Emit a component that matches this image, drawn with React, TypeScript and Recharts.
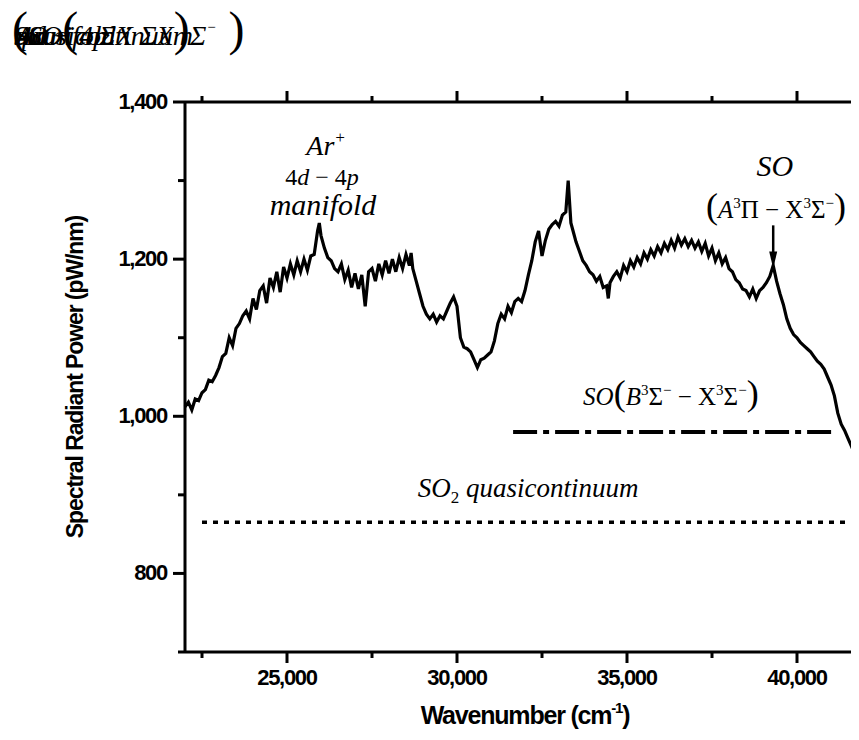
import { LineChart, Line, XAxis, YAxis, ReferenceLine, ReferenceDot } from 'recharts'

// emission spectrum (cm-1 vs pW/nm)
const wavenumber = [
  22000, 22100, 22200, 22300, 22400, 22500, 22600, 22700, 22800, 22900,
  23000, 23100, 23200, 23300, 23400, 23500, 23600, 23700, 23800, 23900,
  24000, 24100, 24200, 24300, 24400, 24500, 24600, 24700, 24800, 24900,
  25000, 25100, 25200, 25300, 25400, 25500, 25600, 25700, 25800, 25900, 25950,
  26000, 26100, 26200, 26300, 26400, 26500, 26600, 26700, 26800, 26900,
  27000, 27100, 27200, 27300, 27400, 27500, 27600, 27700, 27800, 27900,
  28000, 28100, 28200, 28300, 28400, 28500, 28600, 28650, 28700, 28800, 28900,
  29000, 29100, 29200, 29300, 29400, 29500, 29600, 29700, 29800, 29900,
  30000, 30100, 30200, 30300, 30400, 30500, 30600, 30700, 30800, 30900,
  31000, 31100, 31200, 31300, 31400, 31500, 31600, 31700, 31800, 31900,
  32000, 32100, 32200, 32300, 32400, 32500, 32600, 32700, 32800, 32900,
  33000, 33100, 33200, 33270, 33350, 33400, 33500, 33600, 33700, 33800, 33900,
  34000, 34100, 34200, 34300, 34400, 34450, 34500, 34600, 34700, 34800, 34900,
  35000, 35100, 35200, 35300, 35400, 35500, 35600, 35700, 35800, 35900,
  36000, 36100, 36200, 36300, 36400, 36500, 36600, 36700, 36800, 36900,
  37000, 37100, 37200, 37300, 37400, 37500, 37600, 37700, 37800, 37900,
  38000, 38100, 38200, 38300, 38400, 38500, 38600, 38700, 38800, 38900,
  39000, 39100, 39200, 39300, 39400, 39500, 39600, 39700, 39800, 39900,
  40000, 40100, 40200, 40300, 40400, 40500, 40600, 40700, 40800, 40900,
  41000, 41100, 41200, 41300, 41400, 41500, 41600, 41700, 41800, 41900,
]
const power = [
  1012, 1018, 1008, 1022, 1020, 1030, 1034, 1046, 1044, 1052,
  1062, 1076, 1080, 1100, 1090, 1112, 1118, 1128, 1134, 1124,
  1150, 1136, 1160, 1166, 1144, 1176, 1164, 1184, 1158, 1190,
  1176, 1194, 1180, 1198, 1184, 1200, 1186, 1204, 1206, 1236, 1246,
  1230, 1214, 1202, 1198, 1188, 1184, 1194, 1174, 1186, 1164,
  1182, 1162, 1180, 1140, 1184, 1188, 1172, 1194, 1180, 1198,
  1182, 1200, 1184, 1202, 1188, 1206, 1192, 1208, 1188, 1172, 1156,
  1140, 1130, 1124, 1130, 1120, 1128, 1124, 1134, 1144, 1152,
  1140, 1100, 1088, 1086, 1082, 1072, 1062, 1072, 1074, 1078,
  1082, 1096, 1118, 1130, 1124, 1140, 1132, 1146, 1150, 1146,
  1160, 1180, 1198, 1222, 1236, 1204, 1224, 1238, 1244, 1248,
  1242, 1256, 1260, 1300, 1246, 1238, 1222, 1210, 1198, 1192, 1184,
  1180, 1172, 1178, 1164, 1166, 1150, 1170, 1178, 1184, 1176, 1192,
  1184, 1198, 1190, 1202, 1194, 1208, 1200, 1212, 1204, 1216,
  1208, 1220, 1212, 1224, 1214, 1228, 1218, 1226, 1216, 1224,
  1214, 1222, 1210, 1220, 1204, 1214, 1198, 1208, 1194, 1202,
  1188, 1184, 1174, 1170, 1162, 1160, 1152, 1162, 1150, 1160,
  1164, 1170, 1178, 1192, 1172, 1156, 1142, 1124, 1112, 1104,
  1100, 1094, 1090, 1086, 1082, 1076, 1070, 1066, 1060, 1050,
  1040, 1026, 1004, 990, 982, 972, 962, 952, 940, 928,
]

const xTicks = [22500, 25000, 27500, 30000, 32500, 35000, 37500, 40000]
const yTicks = [700, 800, 900, 1000, 1100, 1200, 1300, 1400]

const so2Level = 865
const soBLevel = 980

const data = wavenumber.map((w, i) => ({ w, p: power[i] }))

const sans = '"Liberation Sans", Arial, sans-serif'
const serif = '"Liberation Serif", "Times New Roman", serif'
const fmt = (v: number) => v.toLocaleString('en-US')

const BottomTick = (props: any) => {
  const { x, y, payload } = props
  const major = payload.value % 5000 === 0
  return (
    <g>
      <line x1={x} y1={y} x2={x} y2={y + (major ? 11 : 6)} stroke="#000" strokeWidth={3} />
      {major && (
        <text x={x} y={y + 33} textAnchor="middle" fontFamily={sans} fontWeight="bold" fontSize={22} letterSpacing={-1.3} fill="#000">
          {fmt(payload.value)}
        </text>
      )}
    </g>
  )
}

const TopTick = (props: any) => {
  const { x, y, payload } = props
  const major = payload.value % 5000 === 0
  return <line x1={x} y1={y} x2={x} y2={y - (major ? 11 : 6)} stroke="#000" strokeWidth={3} />
}

const LeftTick = (props: any) => {
  const { x, y, payload } = props
  const major = payload.value % 200 === 0
  return (
    <g>
      <line x1={x} y1={y} x2={x - (major ? 12 : 7)} y2={y} stroke="#000" strokeWidth={3} />
      {major && (
        <text x={x - 18} y={y + 7} textAnchor="end" fontFamily={sans} fontWeight="bold" fontSize={22} letterSpacing={-1.3} fill="#000">
          {fmt(payload.value)}
        </text>
      )}
    </g>
  )
}

const Arrow = (props: any) => {
  const { x1, y1, x2, y2 } = props
  return (
    <g>
      <line x1={x1} y1={y1} x2={x2} y2={y2 - 12} stroke="#000" strokeWidth={2.5} />
      <polygon points={`${x2 - 4},${y2 - 17} ${x2 + 4},${y2 - 17} ${x2},${y2}`} fill="#000" />
    </g>
  )
}

export default function App() {
  return (
    <div style={{ position: 'relative', width: 851, height: 732, overflow: 'hidden' }}>
      {/* overprinted label residue in the top-left corner of the original */}
      <svg width={300} height={70} style={{ position: 'absolute', left: 0, top: 0 }}>
        <g fontFamily={serif} fontStyle="italic" fill="#000" fontSize={28}>
          <text x={8} y={37}>manifold</text>
          <text x={6} y={37}>quasicontinuum</text>
          <text x={6} y={37}>SO</text>
          <text x={8} y={37}>Ar</text>
          <text x={10} y={37}>4d − 4p</text>
          <text x={4} y={37}>
            <tspan fontStyle="normal" fontSize={48}>(</tspan>
            <tspan>SO</tspan>
            <tspan fontStyle="normal" fontSize={48}>(</tspan>
            <tspan>π ΣX ΣX</tspan>
            <tspan fontStyle="normal" fontSize={48}>)</tspan>
            <tspan>Σ</tspan>
            <tspan fontSize={15} dy={-13}>−</tspan>
            <tspan fontStyle="normal" fontSize={48} dy={13}> )</tspan>
          </text>
        </g>
      </svg>
      <LineChart width={880} height={732} data={data} margin={{ top: 84, right: 23, bottom: 28, left: 117 }}>
        <XAxis
          dataKey="w"
          type="number"
          domain={[22000, 42000]}
          ticks={xTicks}
          interval={0}
          height={60}
          tickSize={0}
          tickMargin={0}
          tickLine={false}
          axisLine={{ stroke: '#000', strokeWidth: 3 }}
          tick={<BottomTick />}
          label={{
            content: (p: any) => {
              const vb = p.viewBox
              return (
                <text x={vb.x + vb.width / 2} y={vb.y + 72} textAnchor="middle" fontFamily={sans} fontWeight="bold" fontSize={25} letterSpacing={-1.2} fill="#000">
                  Wavenumber (cm<tspan fontSize={15} dy={-11}>-1</tspan><tspan dy={11}>)</tspan>
                </text>
              )
            },
          }}
        />
        <XAxis
          xAxisId="top"
          orientation="top"
          dataKey="w"
          type="number"
          domain={[22000, 42000]}
          ticks={xTicks}
          interval={0}
          height={10}
          tickSize={0}
          tickMargin={0}
          tickLine={false}
          axisLine={{ stroke: '#000', strokeWidth: 3 }}
          tick={<TopTick />}
        />
        <YAxis
          type="number"
          domain={[700, 1400]}
          ticks={yTicks}
          interval={0}
          width={60}
          tickSize={0}
          tickMargin={0}
          tickLine={false}
          axisLine={{ stroke: '#000', strokeWidth: 3 }}
          tick={<LeftTick />}
          label={{
            content: (p: any) => {
              const vb = p.viewBox
              const cx = vb.x - 50
              const cy = vb.y + vb.height / 2
              return (
                <text x={cx} y={cy} transform={`rotate(-90 ${cx} ${cy})`} textAnchor="middle" dominantBaseline="central" fontFamily={sans} fontWeight="bold" fontSize={23} letterSpacing={-1.1} fill="#000">
                  Spectral Radiant Power (pW/nm)
                </text>
              )
            },
          }}
        />

        <ReferenceLine
          segment={[{ x: 22500, y: so2Level }, { x: 42000, y: so2Level }]}
          stroke="#000"
          strokeWidth={3.5}
          strokeDasharray="5 6"
        />
        <ReferenceLine
          segment={[{ x: 31650, y: soBLevel }, { x: 41080, y: soBLevel }]}
          stroke="#000"
          strokeWidth={4}
          strokeDasharray="24 6 6 6"
        />
        <ReferenceLine segment={[{ x: 39300, y: 1243 }, { x: 39300, y: 1188 }]} shape={<Arrow />} />

        <Line dataKey="p" type="linear" stroke="#000" strokeWidth={3.2} strokeLinejoin="miter" dot={false} isAnimationActive={false} />

        <ReferenceDot
          x={26150}
          y={1332}
          r={0}
          shape={(p: any) => (
            <text x={p.cx} y={p.cy} textAnchor="middle" fontFamily={serif} fontStyle="italic" fontSize={28} fill="#000">
              Ar<tspan fontSize={17} dy={-12}>+</tspan>
            </text>
          )}
        />
        <ReferenceDot
          x={26030}
          y={1294}
          r={0}
          shape={(p: any) => (
            <text x={p.cx} y={p.cy} textAnchor="middle" fontFamily={serif} fontSize={24} fill="#000">
              4<tspan fontStyle="italic">d</tspan> − 4<tspan fontStyle="italic">p</tspan>
            </text>
          )}
        />
        <ReferenceDot
          x={26060}
          y={1256}
          r={0}
          shape={(p: any) => (
            <text x={p.cx} y={p.cy} textAnchor="middle" fontFamily={serif} fontStyle="italic" fontSize={30} fill="#000">
              manifold
            </text>
          )}
        />
        <ReferenceDot
          x={39350}
          y={1306}
          r={0}
          shape={(p: any) => (
            <text x={p.cx} y={p.cy} textAnchor="middle" fontFamily={serif} fontStyle="italic" fontSize={30} fill="#000">
              SO
            </text>
          )}
        />
        <ReferenceDot
          x={39380}
          y={1252}
          r={0}
          shape={(p: any) => (
            <text x={p.cx} y={p.cy} textAnchor="middle" fontFamily={serif} fontSize={25} fill="#000">
              <tspan fontSize={36}>(</tspan>
              <tspan fontStyle="italic">A</tspan>
              <tspan fontSize={15} dy={-10}>3</tspan>
              <tspan dy={10}>Π − X</tspan>
              <tspan fontSize={15} dy={-10}>3</tspan>
              <tspan dy={10}>Σ</tspan>
              <tspan fontSize={15} dy={-10}>−</tspan>
              <tspan fontSize={36} dy={10}>)</tspan>
            </text>
          )}
        />
        <ReferenceDot
          x={36290}
          y={1014}
          r={0}
          shape={(p: any) => (
            <text x={p.cx} y={p.cy} textAnchor="middle" fontFamily={serif} fontSize={25} fill="#000">
              <tspan fontStyle="italic">SO</tspan>
              <tspan fontSize={36}>(</tspan>
              <tspan fontStyle="italic">B</tspan>
              <tspan fontSize={15} dy={-10}>3</tspan>
              <tspan dy={10}>Σ</tspan>
              <tspan fontSize={15} dy={-10}>−</tspan>
              <tspan dy={10}> − X</tspan>
              <tspan fontSize={15} dy={-10}>3</tspan>
              <tspan dy={10}>Σ</tspan>
              <tspan fontSize={15} dy={-10}>−</tspan>
              <tspan fontSize={36} dy={10}>)</tspan>
            </text>
          )}
        />
        <ReferenceDot
          x={32090}
          y={897}
          r={0}
          shape={(p: any) => (
            <text x={p.cx} y={p.cy} textAnchor="middle" fontFamily={serif} fontStyle="italic" fontSize={27} fill="#000">
              SO<tspan fontSize={17} fontStyle="normal" dy={6}>2</tspan>
              <tspan dy={-6}> quasicontinuum</tspan>
            </text>
          )}
        />
      </LineChart>
    </div>
  )
}
